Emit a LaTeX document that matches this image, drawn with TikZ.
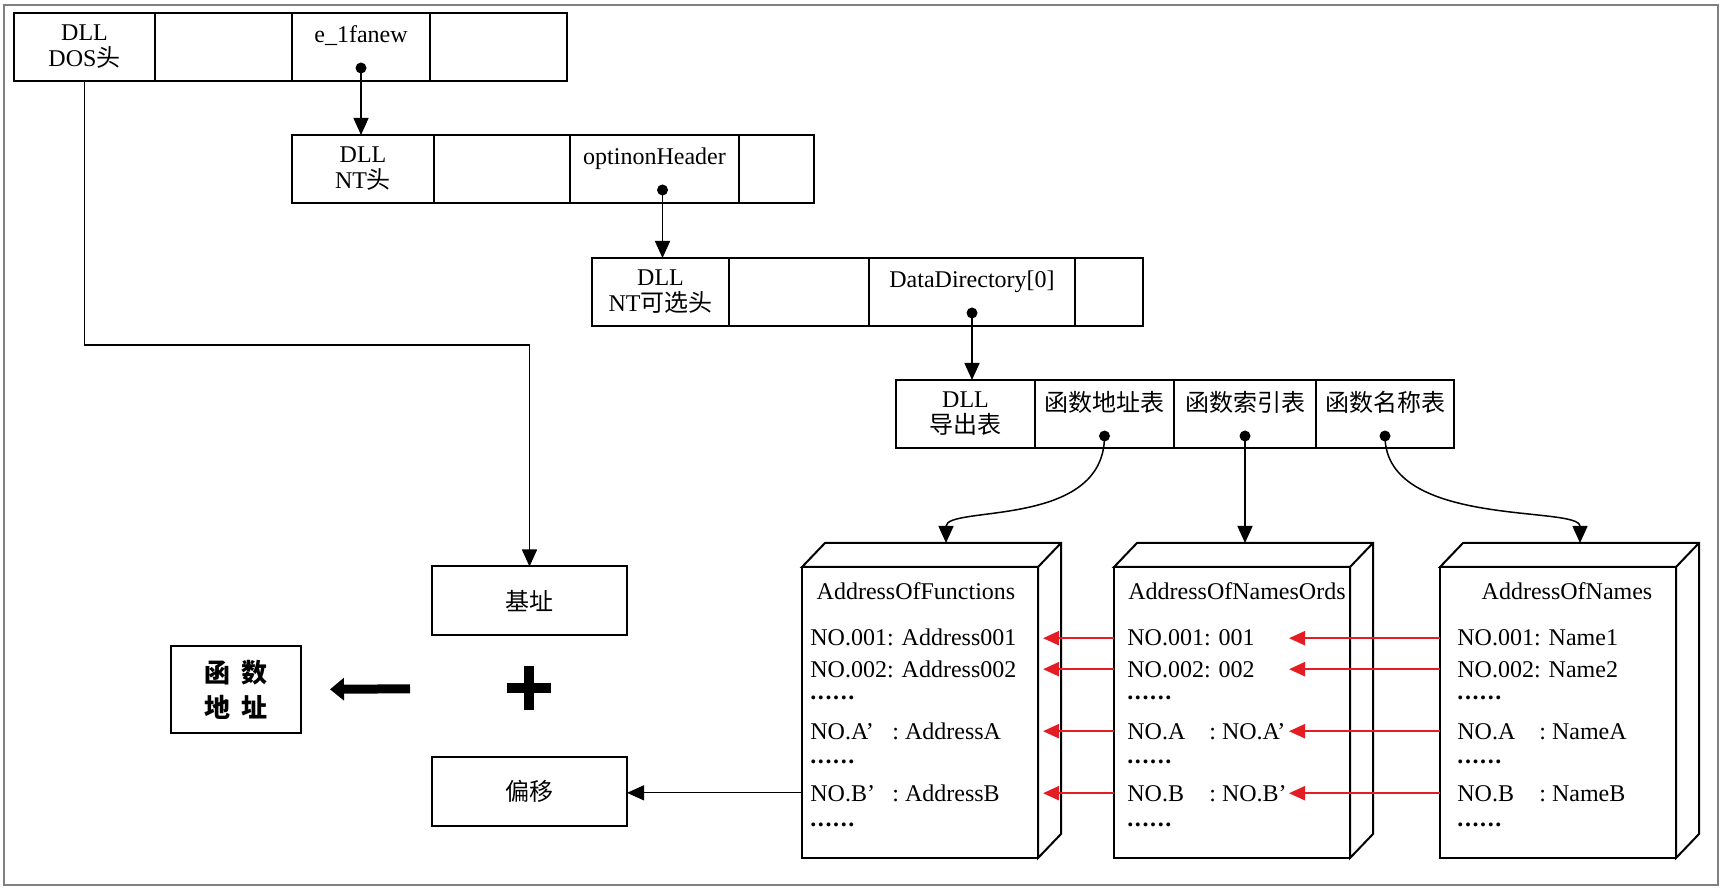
\documentclass[tikz,border=0pt]{standalone}
\usepackage{fontspec}
\setmainfont{Liberation Serif}
\newfontfamily\cjk{Noto Sans CJK SC}
\usetikzlibrary{arrows.meta,positioning,calc}
\definecolor{framegray}{RGB}{128,128,128}
\definecolor{arrowred}{RGB}{228,28,36}
\newcommand{\nolab}[1]{\makebox[41pt][l]{#1}}
\newcommand{\etc}{\textbf{.\hspace{0.8pt}.\hspace{0.8pt}.\hspace{0.8pt}.\hspace{0.8pt}.\hspace{0.8pt}.}}
\tikzset{
  cell/.style={draw, line width=1pt, minimum height=34pt, inner sep=0pt, outer sep=0pt,
    anchor=north west, align=center, font=\fontsize{12}{13}\selectfont},
  ptr/.style={circle, fill, inner sep=0pt, minimum size=5.5pt},
  link/.style={-{Triangle[length=8.5pt,width=7.5pt]}, line width=0.75pt},
  slab/.style={draw, line width=1pt, minimum width=118pt, minimum height=145.5pt,
    inner sep=0pt, outer sep=0pt, anchor=north west, fill=white},
  row/.style={anchor=base west, inner sep=0pt, font=\fontsize{12}{14}\selectfont},
  redlink/.style={draw=arrowred, line width=1.1pt, -{Triangle[length=8pt,width=7pt]}},
  sumbox/.style={draw, line width=1pt, minimum width=97.5pt, minimum height=34.5pt,
    inner sep=0pt, outer sep=0pt, font=\cjk\fontsize{12}{14}\selectfont},
}
\begin{document}
\begin{tikzpicture}[x=0.5pt,y=-0.5pt]
  \fill[white] (0,0) rectangle (1724,892);
  \useasboundingbox (0,0) rectangle (1724,892);
  \draw[framegray, line width=1pt] (4,5) rectangle (1718,885);

  % DOS header
  \node[cell, minimum width=70.5pt] (dos1) at (14,13) {DLL\\DOS{\cjk 头}};
  \node[cell, minimum width=68.5pt] (dos2) at (dos1.north east) {};
  \node[cell, minimum width=69pt] (dos3) at (dos2.north east) {e\_1fanew\\ ~};
  \node[cell, minimum width=68.5pt] (dos4) at (dos3.north east) {};
  \node[ptr] (p1) at ([yshift=6.5pt]dos3.south) {};

  % NT header
  \node[cell, minimum width=71pt] (nt1) at (292,135) {DLL\\NT{\cjk 头}};
  \node[cell, minimum width=68pt] (nt2) at (nt1.north east) {};
  \node[cell, minimum width=84.5pt] (nt3) at (nt2.north east) {optinonHeader\\ ~};
  \node[cell, minimum width=37.5pt] (nt4) at (nt3.north east) {};
  \node[ptr] (p2) at ([xshift=4pt,yshift=6.5pt]nt3.south) {};

  % optional header
  \node[cell, minimum width=68.5pt] (opt1) at (592,258) {DLL\\NT{\cjk 可选头}};
  \node[cell, minimum width=70pt] (opt2) at (opt1.north east) {};
  \node[cell, minimum width=103pt] (opt3) at (opt2.north east) {DataDirectory[0]\\ ~};
  \node[cell, minimum width=34pt] (opt4) at (opt3.north east) {};
  \node[ptr] (p3) at ([yshift=6.5pt]opt3.south) {};

  % export table
  \node[cell, minimum width=69.5pt] (exp1) at (896,380) {DLL\\{\cjk 导出表}};
  \node[cell, minimum width=69.5pt] (exp2) at (exp1.north east) {{\cjk 函数地址表}\\ ~};
  \node[cell, minimum width=71pt] (exp3) at (exp2.north east) {{\cjk 函数索引表}\\ ~};
  \node[cell, minimum width=69pt] (exp4) at (exp3.north east) {{\cjk 函数名称表}\\ ~};
  \node[ptr] (p4) at ([yshift=6pt]exp2.south) {};
  \node[ptr] (p5) at ([yshift=6pt]exp3.south) {};
  \node[ptr] (p6) at ([yshift=6pt]exp4.south) {};

  \draw[link] (p1.center) -- (p1 |- nt1.north);
  \draw[link] (p2.center) -- (p2 |- opt1.north);
  \draw[link] (p3.center) -- (p3 |- exp1.north);

  % the three tables
  \node[slab] (funcs) at (802,567) {};
  \node[slab] (ords) at (1114,567) {};
  \node[slab] (names) at (1440,567) {};
  \foreach \s in {funcs,ords,names} {
    \draw[line width=1pt, fill=white] (\s.north west) -- ++(23,-24) -- ++(236,0)
      -- ++(0,291) -- (\s.south east) -- (\s.north east) -- cycle;
    \draw[line width=1pt] (\s.north east) -- ++(23,-24);
  }

  \node[row, anchor=base] (ftitle) at (916,600) {AddressOfFunctions};
  \node[row] (f1) at (810,646) {NO.001: Address001};
  \node[row] (f2) at (810,677) {NO.002: Address002};
  \node[row] (f3) at (810,699) {\etc};
  \node[row] (f4) at (810,739) {\nolab{NO.A’}:\ AddressA};
  \node[row] (f5) at (810,763) {\etc};
  \node[row] (f6) at (810,801) {\nolab{NO.B’}:\ AddressB};
  \node[row] (f7) at (810,826) {\etc};

  \node[row, anchor=base] (otitle) at (1237,600) {AddressOfNamesOrds};
  \node[row] (o1) at (1127,646) {NO.001: 001};
  \node[row] (o2) at (1127,677) {NO.002: 002};
  \node[row] (o3) at (1127,699) {\etc};
  \node[row] (o4) at (1127,739) {\nolab{NO.A}:\ NO.A’};
  \node[row] (o5) at (1127,763) {\etc};
  \node[row] (o6) at (1127,801) {\nolab{NO.B}:\ NO.B’};
  \node[row] (o7) at (1127,826) {\etc};

  \node[row, anchor=base] (ntitle) at (1567,600) {AddressOfNames};
  \node[row] (n1) at (1457,646) {NO.001: Name1};
  \node[row] (n2) at (1457,677) {NO.002: Name2};
  \node[row] (n3) at (1457,699) {\etc};
  \node[row] (n4) at (1457,739) {\nolab{NO.A}:\ NameA};
  \node[row] (n5) at (1457,763) {\etc};
  \node[row] (n6) at (1457,801) {\nolab{NO.B}:\ NameB};
  \node[row] (n7) at (1457,826) {\etc};

  \coordinate (ftop) at (946,543);
  \coordinate (ntop) at (1580,543);
  \draw[link] (p4.center) .. controls +(0,93) and +(0,-38) .. (ftop);
  \draw[link] (p5.center) -- (p5 |- ftop);
  \draw[link] (p6.center) .. controls +(0,93) and +(0,-38) .. (ntop);

  \foreach \i in {1,2,4,6} {
    \draw[redlink] (o\i -| ords.west) -- ($(o\i -| funcs.east)+(5,0)$);
    \draw[redlink] (n\i -| names.west) -- ($(n\i -| ords.east)+(-61,0)$);
  }

  % base + offset
  \node[sumbox] (base) at (529.5,601) {基址};
  \node[sumbox] (offset) at (529.5,791) {偏移};
  \node[draw, line width=1pt, minimum width=65pt, minimum height=43.5pt, align=center,
    font=\cjk\bfseries\fontsize{13}{17.5}\selectfont] (funcaddr) at (236,689.5)
    {函\hspace{6pt}数\\地\hspace{6pt}址};
  \coordinate (plus) at (529,688);
  \draw[line width=5pt] ($(plus)+(-22,0)$) -- ($(plus)+(22,0)$)
    ($(plus)+(0,-22)$) -- ($(plus)+(0,22)$);
  \draw[line width=4.5pt, -{Triangle[length=7pt,width=11pt]}, shorten <=59.5pt,
    shorten >=14pt] (plus) -- (funcaddr.east);

  \draw[link] (dos1.south) -- ++(0,264) -| (base.north);
  \draw[link, line width=0.6pt] (f6 -| funcs.west) -- (f6 -| offset.east);
\end{tikzpicture}
\end{document}
